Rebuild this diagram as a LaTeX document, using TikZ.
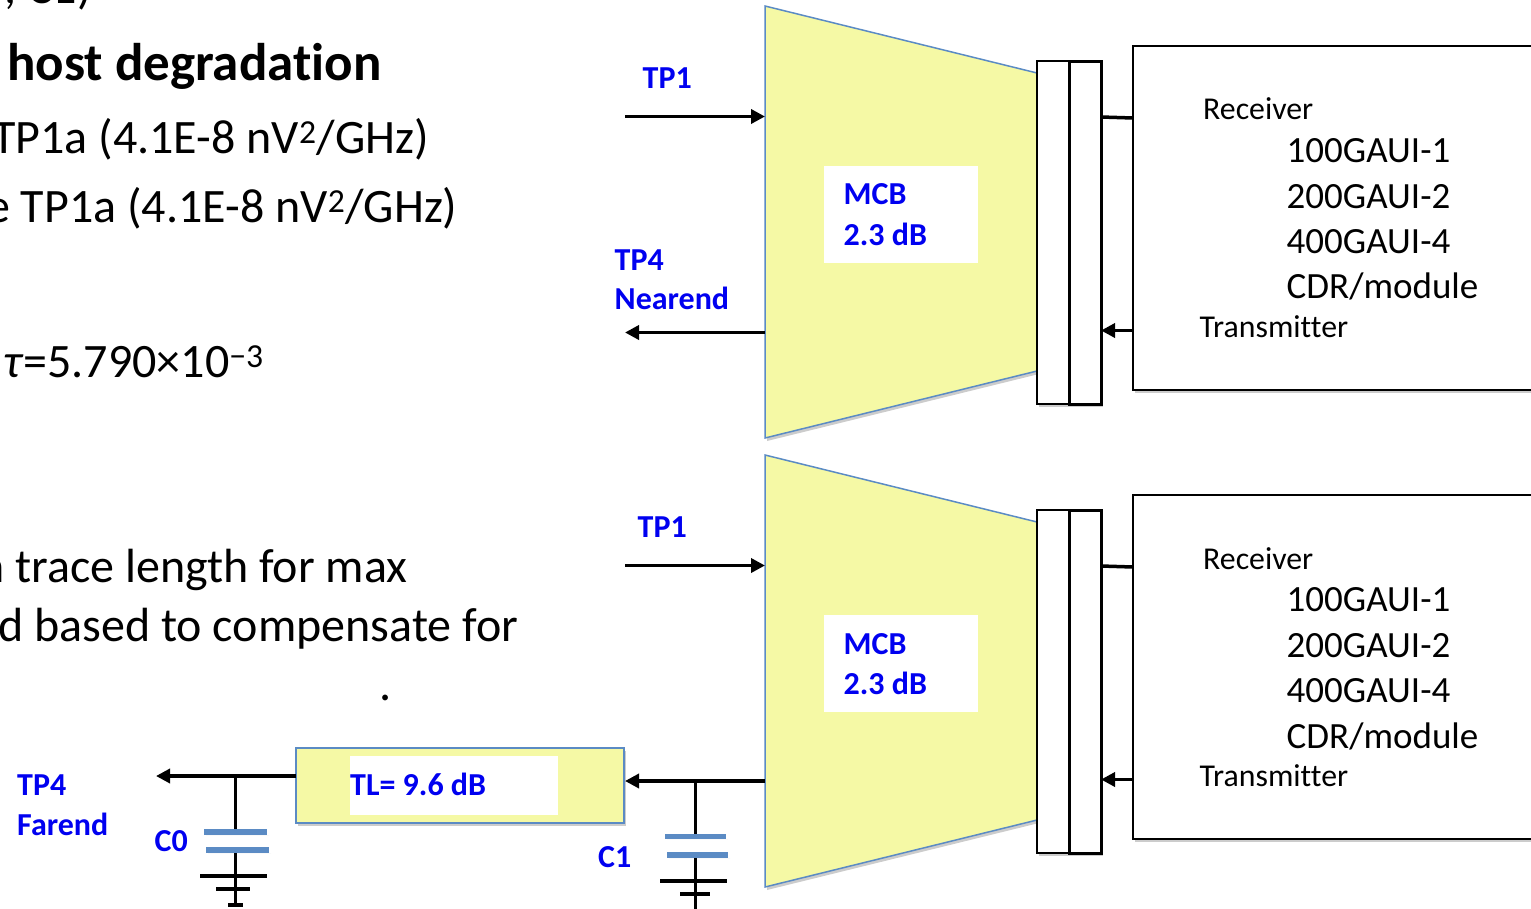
\documentclass[tikz,border=0pt]{standalone}
\usepackage{fontspec}
\setmainfont[Ligatures=NoCommon]{Carlito}
\usetikzlibrary{shadows,arrows.meta}
\definecolor{mcbyellow}{HTML}{F5F9A5}
\definecolor{mcbblue}{HTML}{5B8BC4}
\definecolor{tpblue}{HTML}{0000F0}
\tikzset{
  softshadow/.style={drop shadow={shadow xshift=2pt,shadow yshift=-3pt,opacity=.2,fill=black}},
  mcbshape/.style={draw=mcbblue,line width=1.5pt,fill=mcbyellow,line join=miter,softshadow},
  connbox/.style={draw,line width=3pt,fill=white,inner sep=0pt,outer sep=0pt,minimum width=32pt,minimum height=343pt,softshadow},
  hostbox/.style={draw,line width=2.5pt,fill=white,inner sep=0pt,outer sep=0pt,minimum width=420pt,minimum height=344pt,softshadow},
  patch/.style={fill=white,inner sep=0pt,outer sep=0pt},
  txt/.style={anchor=base west,inner sep=0pt,font=\fontsize{48}{54}\selectfont},
  hosttxt/.style={anchor=base west,inner sep=0pt,font=\fontsize{31.8}{36}\selectfont},
  gauitxt/.style={anchor=base west,inner sep=0pt,font=\fontsize{37}{42}\selectfont},
  tptxt/.style={anchor=base west,inner sep=0pt,text=tpblue,font=\fontsize{32}{38}\selectfont\bfseries},
  sig/.style={line width=3.5pt,-{Triangle[length=14pt,width=14pt]}},
  wire/.style={line width=3.5pt},
  stem/.style={line width=3pt},
  plate/.style={line width=5.5pt,draw=mcbblue,softshadow},
}
\begin{document}
\begin{tikzpicture}[x=1pt, y=-1pt]

  %% ════ left text ════
  \node[txt,anchor=base east] (capnote) at (92,3) {, C1)};
  \node[txt,font=\fontsize{53}{60}\selectfont\bfseries] (title) at (7,80) {host degradation};
  \node[txt] (noisea) at (-8,153) {TP1a (4.1E-8 nV\textsuperscript{2}/GHz)};
  \node[txt] (noiseb) at (-14,222) {e TP1a (4.1E-8 nV\textsuperscript{2}/GHz)};
  \node[txt] (tau) at (3,377) {\textit{τ}=5.790×10\textsuperscript{−3}};
  \node[txt] (tracea) at (-21,582) {n trace length for max};
  \node[txt] (traceb) at (-2,641) {d based to compensate for};
  \node[txt] (dot) at (379,700) {.};

  %% ════ upper channel ════
  \draw[mcbshape] (765,6) coordinate (mcba) -- (1037,73) -- (1037,371) -- (765,438) -- cycle;
  \coordinate (mcbainl) at (765,116.5);
  \coordinate (mcbaout) at (765,332.5);
  \coordinate (tpaleft) at (625,116.5);
  \coordinate (tpfour) at (625,332.5);
  \node[connbox,line width=1.5pt] (conna) at (1053,232.5) {};
  \node[connbox] (connb) at (1085,232.5) {};
  \node[hostbox,anchor=north west] (hosta) at (1133,46) {};
  \coordinate (hostarx) at (1133,118);
  \coordinate (hostatx) at (1133,330.5);
  \coordinate (connarx) at (1101,117);
  \coordinate (connatx) at (1101,330.5);
  \draw[sig] (tpaleft) -- (mcbainl);
  \draw[sig] (mcbaout) -- (tpfour);
  \draw[wire] (connarx) -- (hostarx);
  \draw[sig] (hostatx) -- (connatx);
  \node[patch,minimum width=154pt,minimum height=97pt] (mcbalab) at (901,214.5) {};
  \node[tptxt] (mcbatxt) at (843.5,204) {MCB};
  \node[tptxt] (mcbbtxt) at (843.5,245) {2.3 dB};
  \node[tptxt] (tpone) at (642.5,88) {TP1};
  \node[tptxt] (tpfourtxt) at (614.5,270) {TP4};
  \node[tptxt] (neartxt) at (614.5,309) {Nearend};
  \node[hosttxt] (rxa) at (1203,119.5) {Receiver};
  \node[gauitxt] (gaua) at (1286.5,162) {100GAUI-1};
  \node[gauitxt] (gaub) at (1286.5,208) {200GAUI-2};
  \node[gauitxt] (gauc) at (1286.5,253) {400GAUI-4};
  \node[gauitxt] (gaud) at (1286.5,298) {CDR/module};
  \node[hosttxt] (txa) at (1199.5,337.5) {Transmitter};

  %% ════ lower channel ════
  \draw[mcbshape] (765,455) coordinate (mcbb) -- (1037,522) -- (1037,820) -- (765,887) -- cycle;
  \coordinate (mcbbinl) at (765,565.5);
  \coordinate (mcbbout) at (765,781);
  \coordinate (tpbleft) at (625,565.5);
  \node[connbox,line width=1.5pt] (connc) at (1053,681.5) {};
  \node[connbox] (connd) at (1085,681.5) {};
  \node[hostbox,anchor=north west] (hostb) at (1133,495) {};
  \coordinate (hostbrx) at (1133,567);
  \coordinate (hostbtx) at (1133,779.5);
  \coordinate (conndrx) at (1101,566);
  \coordinate (conndtx) at (1101,779.5);
  \draw[sig] (tpbleft) -- (mcbbinl);
  \draw[wire] (conndrx) -- (hostbrx);
  \draw[sig] (hostbtx) -- (conndtx);
  \node[patch,minimum width=154pt,minimum height=97pt] (mcbblab) at (901,663.5) {};
  \node[tptxt] (mcbctxt) at (843.5,654) {MCB};
  \node[tptxt] (mcbdtxt) at (843.5,694) {2.3 dB};
  \node[tptxt] (tponeb) at (637.5,537) {TP1};
  \node[hosttxt] (rxb) at (1203,569.5) {Receiver};
  \node[gauitxt] (gaue) at (1286.5,611) {100GAUI-1};
  \node[gauitxt] (gauf) at (1286.5,657) {200GAUI-2};
  \node[gauitxt] (gaug) at (1286.5,702) {400GAUI-4};
  \node[gauitxt] (gauh) at (1286.5,748) {CDR/module};
  \node[hosttxt] (txb) at (1199.5,786.5) {Transmitter};

  %% ════ trace and capacitors ════
  \node[draw=mcbblue,line width=2.2pt,fill=mcbyellow,inner sep=0pt,outer sep=0pt,
        minimum width=328pt,minimum height=75pt,softshadow] (trace) at (460,785.5) {};
  \node[patch,minimum width=208pt,minimum height=59pt] (tracelab) at (454,785.5) {};
  \node[tptxt] (tltxt) at (350,795.5) {TL= 9.6 dB};
  \coordinate (traceout) at (296,776);
  \coordinate (tpfar) at (156,776);
  \coordinate (tracein) at (625,781);
  \draw[sig] (traceout) -- (tpfar);
  \draw[sig] (mcbbout) -- (tracein);
  \node[tptxt] (fara) at (17,795) {TP4};
  \node[tptxt] (farb) at (17,835.5) {Farend};

  \coordinate (czero) at (235,776);
  \coordinate (czerot) at (235,831);
  \coordinate (czerob) at (235,850);
  \coordinate (czerog) at (235,905);
  \draw[stem] (czero) -- (czerot);
  \draw[stem] (czerob) -- (czerog);
  \draw[plate] (204,832) -- (267,832);
  \draw[plate] (206,850) -- (269,850);
  \draw[wire] (200,876) -- (267,876);
  \draw[wire] (216,889) -- (250,889);
  \draw[wire] (228,905) -- (243,905);
  \node[tptxt] (czerotxt) at (154.5,851.5) {C0};

  \coordinate (cone) at (695,781);
  \coordinate (conet) at (695,836);
  \coordinate (coneb) at (695,855);
  \coordinate (coneg) at (695,910);
  \draw[stem] (cone) -- (conet);
  \draw[stem] (coneb) -- (coneg);
  \draw[plate] (665,836.5) -- (726,836.5);
  \draw[plate] (667,855) -- (728,855);
  \draw[wire] (660,881) -- (727,881);
  \draw[wire] (680,894) -- (710,894);
  \node[patch,minimum width=27pt,minimum height=43pt,anchor=north west] (conelab) at (598,828) {};
  \node[tptxt] (conetxt) at (598,867) {C1};

  \pgfresetboundingbox
  \path[use as bounding box] (0,0) rectangle (1531,908);
\end{tikzpicture}
\end{document}
